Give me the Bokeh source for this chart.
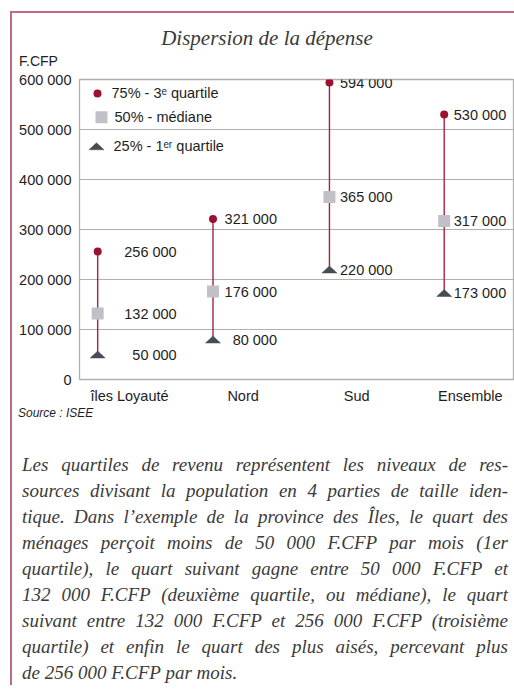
from bokeh.plotting import figure
from bokeh.models import ColumnDataSource, FixedTicker, Div, Column, Row, Spacer
from bokeh.core.properties import value
from bokeh.embed import file_html
from bokeh.resources import INLINE

# ---------------- data ----------------
categories = ["îles Loyauté", "Nord", "Sud", "Ensemble"]
q3_values = [256000, 321000, 594000, 530000]
median_values = [132000, 176000, 365000, 317000]
q1_values = [50000, 80000, 220000, 173000]
y_ticks = [0, 100000, 200000, 300000, 400000, 500000, 600000]
legend_labels = ["75% - 3ᵉ quartile", "50% - médiane", "25% - 1ᵉʳ quartile"]
title_text = "Dispersion de la dépense"
unit_text = "F.CFP"
source_text = "Source : ISEE"
note_lines = [
    "Les quartiles de revenu représentent les niveaux de res-",
    "sources divisant la population en 4 parties de taille iden-",
    "tique. Dans l’exemple de la province des Îles, le quart des",
    "ménages perçoit moins de 50 000 F.CFP par mois (1er",
    "quartile), le quart suivant gagne entre 50 000 F.CFP et",
    "132 000 F.CFP (deuxième quartile, ou médiane), le quart",
    "suivant entre 132 000 F.CFP et 256 000 F.CFP (troisième",
    "quartile) et enfin le quart des plus aisés, percevant plus",
    "de 256 000 F.CFP par mois.",
]

# ---------------- layout / style ----------------
X_START, X_END = -0.44, 3.38
Y_START, Y_END = 0, 600000
W = 502                      # content width
HEAD_H = 56                  # title strip above the figure
FRAME_W, FRAME_H = 434, 301
B_LEFT, B_TOP, B_BOTTOM = 67, 10, 26
B_RIGHT = W - B_LEFT - FRAME_W
FIG_H = B_TOP + FRAME_H + B_BOTTOM
NOTE_H = 279
UX = (X_END - X_START) / FRAME_W   # data units per pixel (x)
UY = (Y_END - Y_START) / FRAME_H   # data units per pixel (y)

marker_dx = [-0.28, -0.265, -0.24, -0.23]
label_dx_px = [79, 64, 63, 62]

SANS = "Liberation Sans, Arial, sans-serif"
FS = "14.5px"
RED = "#9b1131"
LINE_RED = "#a8223f"
SQ_GREY = "#c1c0c6"
TRI_GREY = "#464d55"
GRID = "#b0b0b0"
TXT = "#1e1e1e"
BORDER = "#c26a7b"


def fmt(v):
    return f"{v:,}".replace(",", " ")


xs = [i + d for i, d in enumerate(marker_dx)]

p = figure(width=W, height=FIG_H, x_range=(X_START, X_END), y_range=(Y_START, Y_END),
           output_backend="svg", toolbar_location=None,
           min_border_left=B_LEFT, min_border_right=B_RIGHT,
           min_border_top=B_TOP, min_border_bottom=B_BOTTOM, margin=0)
p.background_fill_color = "white"
p.border_fill_color = "white"
p.outline_line_color = GRID
p.outline_line_width = 1.3

p.xgrid.visible = False
p.ygrid.grid_line_color = GRID
p.ygrid.grid_line_width = 1.2

p.yaxis.ticker = FixedTicker(ticks=y_ticks)
p.yaxis.major_label_overrides = {t: fmt(t) for t in y_ticks}
p.xaxis.ticker = FixedTicker(ticks=list(range(len(categories))))
p.xaxis.major_label_overrides = {i: c for i, c in enumerate(categories)}
for ax in (p.xaxis, p.yaxis):
    ax.axis_line_color = None
    ax.major_tick_line_color = None
    ax.minor_tick_line_color = None
    ax.major_tick_out = 0
    ax.major_tick_in = 0
    ax.major_label_text_font = SANS
    ax.major_label_text_font_size = FS
    ax.major_label_text_color = TXT
p.yaxis.major_label_standoff = 8
p.xaxis.major_label_standoff = 8

src = ColumnDataSource(dict(
    x=xs, q1=q1_values, med=median_values, q3=q3_values,
    q1_lbl=[fmt(v) for v in q1_values],
    med_lbl=[fmt(v) for v in median_values],
    q3_lbl=[fmt(v) for v in q3_values],
    dx=label_dx_px,
))

# vertical range lines
p.segment(x0="x", y0="q1", x1="x", y1="q3", source=src, line_color=LINE_RED, line_width=1.4)

# flattened triangles for the 1st quartile
HW, HH = 7.5 * UX, 3.5 * UY
tri_xs = [[x - HW, x + HW, x] for x in xs]
tri_ys = [[v - HH, v - HH, v + HH] for v in q1_values]
p.patches(tri_xs, tri_ys, fill_color=TRI_GREY, line_color=TRI_GREY, line_width=0.5)

# medians and 3rd quartiles
p.scatter("x", "med", source=src, marker="square", size=12, fill_color=SQ_GREY, line_color=None)
p.scatter("x", "q3", source=src, marker="circle", size=8, fill_color=RED, line_color=None)

for col in ("q1", "med", "q3"):
    p.text(x="x", y=col, text=col + "_lbl", source=src, x_offset="dx",
           text_align="right", text_baseline="middle",
           text_font=value(SANS), text_font_size=FS, text_color=TXT)

# legend inside the frame, top-left
leg_y = [Y_END - 14 * UY, Y_END - 38 * UY, Y_END - 67 * UY]
leg_mx = [X_START + 18 * UX, X_START + 22 * UX, X_START + 17 * UX]
leg_tx = [X_START + 32 * UX, X_START + 35 * UX, X_START + 34 * UX]
p.scatter([leg_mx[0]], [leg_y[0]], marker="circle", size=8, fill_color=RED, line_color=None)
p.scatter([leg_mx[1]], [leg_y[1]], marker="square", size=12, fill_color=SQ_GREY, line_color=None)
p.patches([[leg_mx[2] - HW, leg_mx[2] + HW, leg_mx[2]]],
          [[leg_y[2] - HH, leg_y[2] - HH, leg_y[2] + HH]],
          fill_color=TRI_GREY, line_color=TRI_GREY, line_width=0.5)
p.text(x=leg_tx, y=leg_y, text=legend_labels, text_align="left", text_baseline="middle",
       text_font=value(SANS), text_font_size=FS, text_color=TXT)

# header strip: title and unit
head_html = (
    f'<div style="position:relative;width:{W}px;height:{HEAD_H}px;">'
    '<div style="position:absolute;left:0;top:12px;width:510px;text-align:center;'
    "font-family:'Liberation Serif',serif;font-style:italic;font-size:21px;line-height:26px;"
    f'color:#3a3a3a;white-space:nowrap;">{title_text}</div>'
    '<div style="position:absolute;left:7px;top:40px;'
    "font-family:'Liberation Sans',Arial,sans-serif;font-size:14px;line-height:16px;"
    f'color:{TXT};white-space:nowrap;">{unit_text}</div>'
    '</div>')
header = Div(text=head_html, width=W, height=HEAD_H, margin=0)

# note strip: source and explanatory paragraph
n = len(note_lines)
rows = "".join(
    f'<div style="text-align:justify;text-align-last:{"justify" if i < n - 1 else "left"};">{line}</div>'
    for i, line in enumerate(note_lines))
note_html = (
    f'<div style="position:relative;width:{W}px;height:{NOTE_H}px;overflow:hidden;">'
    '<div style="position:absolute;left:6px;top:0;'
    "font-family:'Liberation Sans',Arial,sans-serif;font-style:italic;font-size:12px;line-height:14px;"
    f'color:{TXT};white-space:nowrap;">{source_text}</div>'
    '<div style="position:absolute;left:10px;top:46px;width:486px;'
    "font-family:'Liberation Serif',serif;font-style:italic;font-size:19px;"
    f'line-height:26px;color:#3b3b3b;">{rows}</div>'
    '</div>')
note = Div(text=note_html, width=W, height=NOTE_H, margin=0)

# decorative frame: pink top and left rules
CONTENT_H = HEAD_H + FIG_H + NOTE_H
top_rule = Div(text="", width=W + 2, height=2, margin=0, styles={"background-color": BORDER})
left_rule = Div(text="", width=2, height=CONTENT_H, margin=0, styles={"background-color": BORDER})
content = Column(children=[header, p, note], spacing=0, margin=0)
inner = Row(children=[left_rule, content], spacing=0, margin=0)
boxed = Column(children=[top_rule, inner], spacing=0, margin=0)
outer = Column(children=[Spacer(height=11, margin=0),
                         Row(children=[Spacer(width=10, margin=0), boxed], spacing=0, margin=0)],
               spacing=0, margin=0)

open("out.html", "w").write(file_html(outer, INLINE))
